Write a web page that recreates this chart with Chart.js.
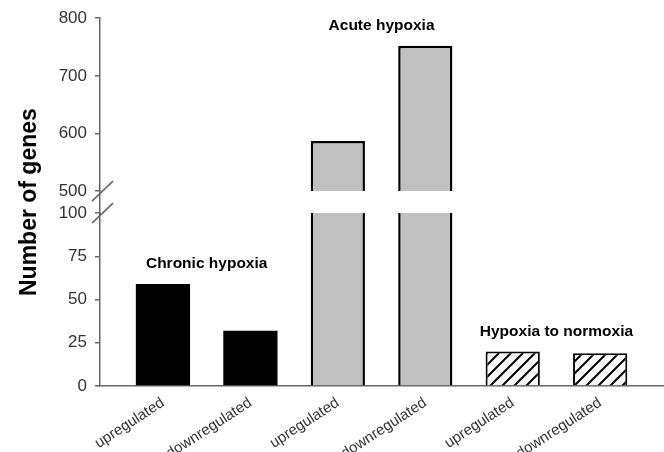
<!DOCTYPE html>
<html>
<head>
<meta charset="utf-8">
<script src="https://cdn.jsdelivr.net/npm/chart.js@4.4.0/dist/chart.umd.min.js"></script>
<style>
  html, body { margin: 0; padding: 0; background: #fff; }
</style>
</head>
<body>
<canvas id="myChart" width="664" height="452"></canvas>
<script>
const categories = ['upregulated', 'downregulated', 'upregulated', 'downregulated', 'upregulated', 'downregulated'];
const groups = ['Chronic hypoxia', 'Acute hypoxia', 'Hypoxia to normoxia'];
const chronic = [59, 32];
const acute = [587, 752];
const normoxia = [20, 19];
const lowerTicks = [0, 25, 50, 75, 100];
const upperTicks = [500, 600, 700, 800];

const axisColor = '#666';
const textColor = '#333';
Chart.defaults.font.family = '"Liberation Sans", Arial, sans-serif';

// diagonal hatch fill
function hatch() {
  const c = document.createElement('canvas');
  c.width = 12; c.height = 12;
  const g = c.getContext('2d');
  g.fillStyle = '#fff';
  g.fillRect(0, 0, 12, 12);
  g.strokeStyle = '#000';
  g.lineWidth = 2;
  g.beginPath();
  g.moveTo(-3, 15); g.lineTo(15, -3);
  g.moveTo(-3, 3); g.lineTo(3, -3);
  g.moveTo(9, 15); g.lineTo(15, 9);
  g.stroke();
  return g.createPattern(c, 'repeat');
}

const pts = (vals, start) => vals.map((v, i) => ({ x: start + i + 1, y: v }));
const lowMax = lowerTicks[lowerTicks.length - 1];

const common = { grouped: false, barPercentage: 0.62, categoryPercentage: 1, borderSkipped: false };

const groupSpecs = [
  { vals: chronic, start: 0, axis: 'yBot' },
  { vals: acute, start: 2, axis: 'yTop' },
  { vals: normoxia, start: 4, axis: 'yBot' }
];

const annotate = {
  id: 'annotate',
  afterDatasetsDraw(chart) {
    const { ctx, scales } = chart;
    ctx.save();
    // axis break marks
    ctx.strokeStyle = axisColor;
    ctx.lineWidth = 1.5;
    const ax = scales.yBot.right;
    [scales.yTop.bottom, scales.yBot.top].forEach(y => {
      ctx.beginPath();
      ctx.moveTo(ax - 8, y + 10);
      ctx.lineTo(ax + 13, y - 10);
      ctx.stroke();
    });
    // group titles
    ctx.font = 'bold 15.5px "Liberation Sans", Arial, sans-serif';
    ctx.fillStyle = '#000';
    ctx.textAlign = 'center';
    ctx.textBaseline = 'middle';
    groupSpecs.forEach((g, i) => {
      const x = (scales.x.getPixelForValue(g.start + 1) + scales.x.getPixelForValue(g.start + 2)) / 2;
      const top = scales[g.axis].getPixelForValue(Math.max(...g.vals));
      ctx.fillText(groups[i], x, top - 20);
    });
    ctx.restore();
  }
};

const yCommon = {
  type: 'linear',
  position: 'left',
  stack: 'genes',
  afterFit: s => { s.width = 100; },
  border: { color: axisColor, width: 1.5 },
  grid: { drawOnChartArea: false, tickLength: 5, color: axisColor, lineWidth: 1.5 },
  ticks: { color: textColor, padding: 8, font: { size: 17 } }
};

const ctx = document.getElementById('myChart').getContext('2d');

new Chart(ctx, {
  type: 'bar',
  data: {
    datasets: [
      {
        ...common, label: groups[0], data: pts(chronic, 0), yAxisID: 'yBot',
        backgroundColor: '#000', borderWidth: 0
      },
      {
        ...common, label: groups[1], data: pts(acute.map(v => Math.min(v, lowMax)), 2), yAxisID: 'yBot',
        backgroundColor: '#c0c0c0', borderColor: '#000',
        borderWidth: { left: 2.5, right: 2.5, top: 0, bottom: 0 }
      },
      {
        ...common, label: groups[1], data: pts(acute, 2), yAxisID: 'yTop',
        backgroundColor: '#c0c0c0', borderColor: '#000',
        borderWidth: { left: 2.5, right: 2.5, top: 2.5, bottom: 0 }
      },
      {
        ...common, label: groups[2], data: pts(normoxia, 4), yAxisID: 'yBot',
        backgroundColor: hatch(), borderColor: '#000',
        borderWidth: { left: 2, right: 2, top: 2, bottom: 0 }
      }
    ]
  },
  options: {
    responsive: false,
    animation: false,
    layout: { padding: { top: 14, right: 0, left: 0, bottom: 0 } },
    plugins: { legend: { display: false }, tooltip: { enabled: false } },
    scales: {
      x: {
        type: 'linear',
        min: 0.28,
        max: 6.73,
        offset: false,
        grid: { display: false },
        border: { display: true, color: axisColor, width: 1.5 },
        afterBuildTicks: s => { s.ticks = categories.map((c, i) => ({ value: i + 1 })); },
        afterFit: s => { s.height = 66; },
        ticks: {
          autoSkip: false, minRotation: 33, maxRotation: 33, padding: 0,
          color: textColor, font: { size: 15 },
          callback: v => categories[v - 1]
        }
      },
      yTop: {
        ...yCommon,
        weight: 3,
        stackWeight: 173,
        min: upperTicks[0],
        max: upperTicks[upperTicks.length - 1],
        afterBuildTicks: s => { s.ticks = upperTicks.map(v => ({ value: v })); }
      },
      yGap: {
        type: 'linear',
        position: 'left',
        stack: 'genes',
        weight: 2,
        stackWeight: 22,
        min: 0,
        max: 1,
        afterFit: s => { s.width = 100; },
        border: { color: axisColor, width: 1.5 },
        grid: { display: false },
        ticks: { display: false },
        title: {
          display: true,
          text: 'Number of genes',
          color: '#000',
          font: { size: 23, weight: 'bold' },
          padding: { top: 16, bottom: 0 }
        }
      },
      yBot: {
        ...yCommon,
        weight: 1,
        stackWeight: 173,
        min: lowerTicks[0],
        max: lowMax,
        afterBuildTicks: s => { s.ticks = lowerTicks.map(v => ({ value: v })); }
      }
    }
  },
  plugins: [annotate]
});
</script>
</body>
</html>
